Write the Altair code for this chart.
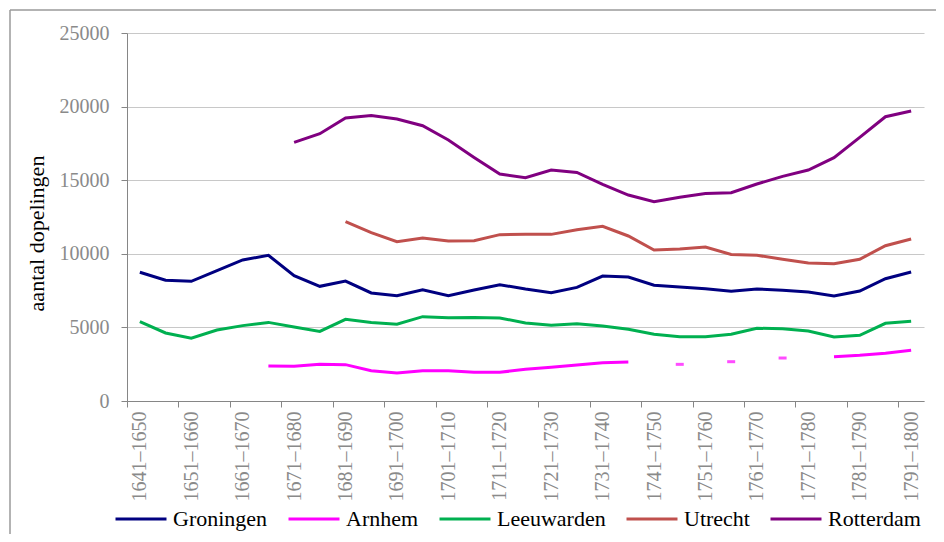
import altair as alt
import pandas as pd

periods = ["1641–1650", "1646–1655", "1651–1660", "1656–1665", "1661–1670", "1666–1675",
           "1671–1680", "1676–1685", "1681–1690", "1686–1695", "1691–1700", "1696–1705",
           "1701–1710", "1706–1715", "1711–1720", "1716–1725", "1721–1730", "1726–1735",
           "1731–1740", "1736–1745", "1741–1750", "1746–1755", "1751–1760", "1756–1765",
           "1761–1770", "1766–1775", "1771–1780", "1776–1785", "1781–1790", "1786–1795",
           "1791–1800"]

cities = ["Groningen", "Arnhem", "Leeuwarden", "Utrecht", "Rotterdam"]
colors = ["#000080", "#ff00ff", "#00b050", "#c0504d", "#800080"]

groningen = [8750, 8200, 8130, 8850, 9580, 9900, 8510, 7790, 8150, 7340, 7150, 7560, 7150, 7540,
             7900, 7610, 7360, 7720, 8490, 8420, 7860, 7740, 7630, 7450, 7610, 7520, 7400, 7130,
             7470, 8310, 8760]
arnhem = [None, None, None, None, None, 2380, 2360, 2490, 2470, 2060, 1900, 2060, 2060, 1950,
          1950, 2150, 2290, 2450, 2600, 2650, None, 2490, None, 2670, None, 2920, None, 3010,
          3100, 3240, 3440]
leeuwarden = [5390, 4620, 4260, 4820, 5120, 5340, 5030, 4730, 5550, 5340, 5210, 5730, 5660, 5680,
              5640, 5300, 5140, 5250, 5100, 4870, 4530, 4370, 4370, 4530, 4940, 4910, 4760, 4350,
              4460, 5280, 5410]
utrecht = [None, None, None, None, None, None, None, None, 12180, 11440, 10820, 11070, 10870,
           10890, 11300, 11320, 11320, 11640, 11870, 11210, 10260, 10330, 10460, 9960, 9900,
           9630, 9370, 9330, 9630, 10550, 11010]
rotterdam = [None, None, None, None, None, None, 17570, 18160, 19220, 19400, 19160, 18700, 17730,
             16550, 15420, 15170, 15690, 15530, 14720, 13990, 13540, 13840, 14090, 14150, 14740,
             15260, 15690, 16530, 17910, 19310, 19700]

y_ticks = [0, 5000, 10000, 15000, 20000, 25000]

series = dict(zip(cities, [groningen, arnhem, leeuwarden, utrecht, rotterdam]))

rows = []
for city, vals in series.items():
    seg = 0
    prev_none = True
    for i, v in enumerate(vals):
        if v is None:
            prev_none = True
            continue
        if prev_none:
            seg += 1
        prev_none = False
        left = i > 0 and vals[i - 1] is not None
        right = i < len(vals) - 1 and vals[i + 1] is not None
        rows.append({"period": periods[i], "city": city, "value": v,
                     "seg": f"{city}-{seg}", "isolated": not (left or right)})
df = pd.DataFrame(rows)

FONT = "Liberation Serif"
GRAY = "#8a8a8a"
step = 797 / len(periods)

x_enc = alt.X("period:N", sort=periods, title=None,
              scale=alt.Scale(domain=periods),
              axis=alt.Axis(values=periods[::2], labelAngle=270, tickOffset=-step / 2,
                            labelOffset=step / 2, tickSize=6, labelPadding=4,
                            labelFont=FONT, labelFontSize=20, labelColor=GRAY,
                            domainColor="#868686", tickColor="#868686", grid=False))
y_enc = alt.Y("value:Q", scale=alt.Scale(domain=[0, 25000], nice=False),
              axis=alt.Axis(values=y_ticks, format="d", tickSize=6, labelPadding=12,
                            labelFont=FONT, labelFontSize=20, labelColor=GRAY,
                            domainColor="#868686", tickColor="#868686",
                            gridColor="#c8c8c8", gridWidth=1.2,
                            title="aantal dopelingen", titleFont=FONT, titleFontSize=22,
                            titleFontWeight="normal", titleColor="#000000",
                            titleX=-91, titleY=200, titleAlign="center",
                            titleBaseline="middle", titleAngle=270))
color_enc = alt.Color("city:N", scale=alt.Scale(domain=cities, range=colors),
                      legend=alt.Legend(title=None, orient="none", direction="horizontal",
                                        legendX=-13, legendY=459, symbolType="stroke",
                                        symbolSize=2600, symbolStrokeWidth=3, labelOffset=5,
                                        columnPadding=14, labelFont=FONT, labelFontSize=22,
                                        labelColor="#000000"))

base = alt.Chart(df)
lines = base.mark_line(strokeWidth=3).encode(
    x=x_enc, y=y_enc, color=color_enc, detail="seg:N")
dots = base.transform_filter("datum.isolated").mark_tick(
    orient="horizontal", size=8, thickness=3).encode(
    x=alt.X("period:N", sort=periods), y="value:Q",
    color=alt.Color("city:N", scale=alt.Scale(domain=cities, range=colors), legend=None))

frame_data = alt.Data(values=[{"k": 0}])
frame_top = alt.Chart(frame_data).mark_rule(color="#9a9a9a", strokeWidth=1.5).encode(
    x=alt.value(-117), x2=alt.value(809), y=alt.value(-23))
frame_left = alt.Chart(frame_data).mark_rule(color="#9a9a9a", strokeWidth=1.5).encode(
    x=alt.value(-117), y=alt.value(-23), y2=alt.value(501))

chart = alt.layer(frame_top, frame_left, lines, dots).properties(
    width=797, height=368,
    padding={"left": 119, "top": 25, "right": 12, "bottom": 133},
    autosize=alt.AutoSizeParams(type="none"),
    background="#ffffff",
).configure_view(stroke=None)

chart.save("out.html", embed_options={"renderer": "svg", "actions": False})
